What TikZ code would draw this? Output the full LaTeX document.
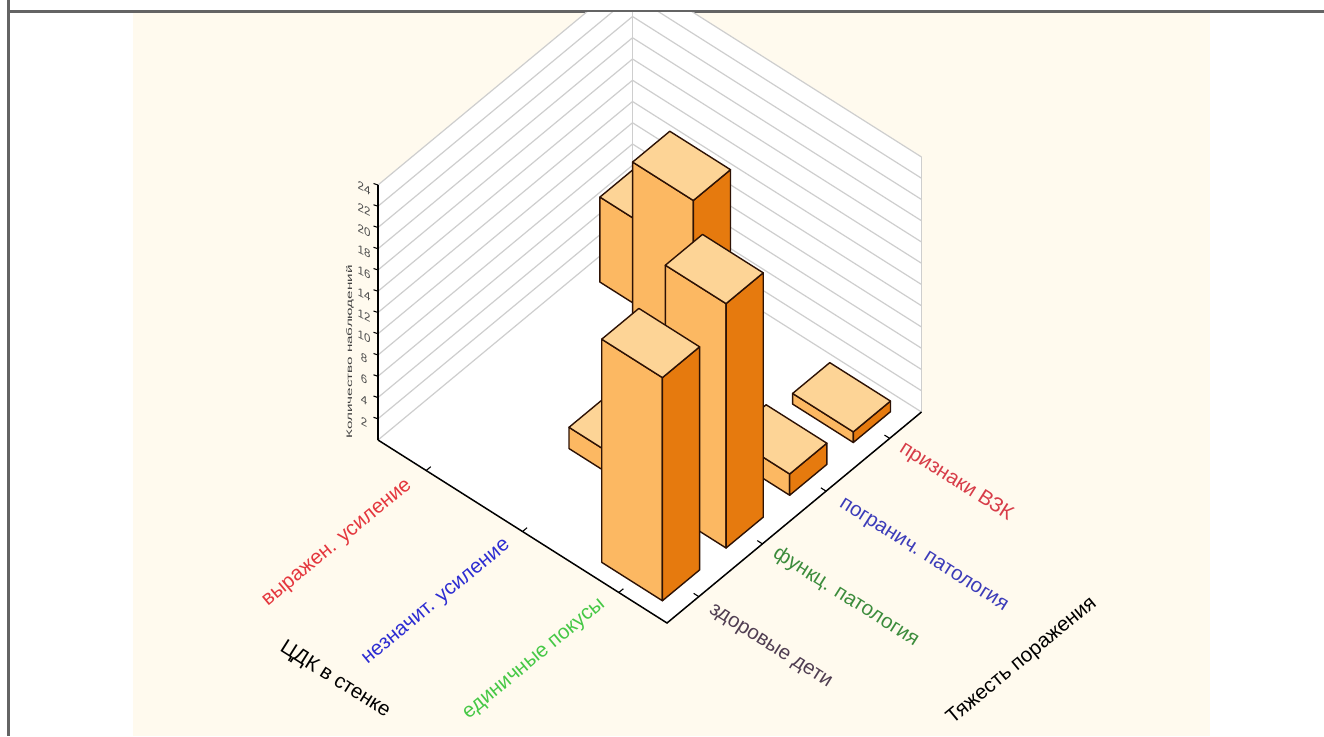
\documentclass[tikz,border=0pt]{standalone}
\usepackage{fontspec}
\setmainfont{Liberation Sans}
\definecolor{cream}{RGB}{255,250,238}
\definecolor{gridgray}{RGB}{206,206,206}
\definecolor{framegray}{RGB}{100,100,100}
\definecolor{barT}{RGB}{253,212,150}
\definecolor{barL}{RGB}{252,184,98}
\definecolor{barR}{RGB}{230,122,14}
\definecolor{barE}{RGB}{45,18,5}
\definecolor{labred}{RGB}{228,55,62}
\definecolor{labblue}{RGB}{45,45,210}
\definecolor{labgreen}{RGB}{70,200,70}
\definecolor{labgreenB}{RGB}{60,140,60}
\definecolor{labblueB}{RGB}{60,60,185}
\definecolor{labredB}{RGB}{215,60,72}
\definecolor{labdark}{RGB}{80,62,82}
\newcommand{\mybar}[3]{%
  \pgfmathsetmacro{\bsA}{#1-0.105}%
  \pgfmathsetmacro{\bsB}{#1+0.105}%
  \pgfmathsetmacro{\bwA}{#2-0.073}%
  \pgfmathsetmacro{\bwB}{#2+0.073}%
  \filldraw[barleft] (\bsA,\bwA,0) -- (\bsB,\bwA,0) -- (\bsB,\bwA,#3) -- (\bsA,\bwA,#3) -- cycle;
  \filldraw[barright] (\bsA,\bwA,0) -- (\bsA,\bwB,0) -- (\bsA,\bwB,#3) -- (\bsA,\bwA,#3) -- cycle;
  \filldraw[bartop] (\bsA,\bwA,#3) -- (\bsB,\bwA,#3) -- (\bsB,\bwB,#3) -- (\bsA,\bwB,#3) -- cycle;
}
\begin{document}
\begin{tikzpicture}[x=1pt,y=-1pt,
  grid/.style={draw=gridgray,line width=1.2pt},
  axisline/.style={draw=black,line width=1.5pt},
  tickline/.style={draw=black,line width=1.1pt},
  barleft/.style={fill=barL,draw=barE,line width=1.4pt,line join=round},
  barright/.style={fill=barR,draw=barE,line width=1.4pt,line join=round},
  bartop/.style={fill=barT,draw=barE,line width=1.4pt,line join=round},
  lab/.style={font=\fontsize{20.5}{20.5}\selectfont,inner sep=0pt},
  ticklab/.style={font=\fontsize{11.5}{11.5}\selectfont,inner sep=0pt,text=black!70,yslant=-0.5},
]
\useasboundingbox (0,0) rectangle (1324,736);
\fill[white] (0,0) rectangle (1324,736);
\fill[cream] (132.5,12.7) rectangle (1209.5,736);
\draw[framegray,line width=2.7pt] (8.5,11.35) -- (1324,11.35);
\draw[framegray,line width=2.5pt] (8.5,0) -- (8.5,736);
\begin{scope}
\clip (132.5,12.7) rectangle (1209.5,736);
\begin{scope}[shift={(667pt,-623pt)},x={(-289pt,183pt)},y={(254.5pt,211pt)},z={(0pt,10.625pt)}]
  % walls and floor
  \fill[white] (1,0,0) -- (1,1,0) -- (1,1,24) -- (1,0,24) -- cycle;
  \fill[white] (1,1,0) -- (0,1,0) -- (0,1,24) -- (1,1,24) -- cycle;
  \fill[white] (0,0,0) -- (1,0,0) -- (1,1,0) -- (0,1,0) -- cycle;
  \foreach \v in {0,2,...,24} \draw[grid] (1,0,\v) -- (1,1,\v) -- (0,1,\v);
  \draw[grid] (1,1,0) -- (1,1,24);
  \draw[grid] (0,1,0) -- (0,1,24);
  % axes
  \draw[axisline] (1,0,0) -- (1,0,24);
  \foreach \v in {2,4,...,24} \draw[tickline] (1,0,\v) -- ++(-4.5pt,1.5pt);
  \draw[axisline] (1,0,0) -- (0,0,0) -- (0,1,0);
  \foreach \s in {0.1667,0.5,0.8333} \draw[tickline] (\s,0,0) -- (\s,0.018,0);
  \foreach \w in {0.125,0.375,0.625,0.875} \draw[tickline] (0,\w,0) -- (0.018,\w,0);
  % bars, back to front
  \mybar{5/6}{7/8}{8}
  \mybar{1/2}{5/8}{22}
  \mybar{1/6}{7/8}{1}
  \mybar{1/2}{3/8}{2}
  \mybar{1/6}{5/8}{2}
  \mybar{1/6}{3/8}{23}
  \mybar{1/6}{1/8}{21}
\end{scope}
\end{scope}
% value labels
\foreach \v in {2,4,...,24} \node[ticklab] (tl\v) at (364,{443-10.625*\v}) {\v};
\node[font=\fontsize{8}{8}\selectfont,inner sep=0pt,text=black!75,rotate=90,xscale=1.9] (ytitle) at (350,352) {Количество наблюдений};
% category labels, left axis
\node[lab,text=labred,rotate=39.6] (c1) at (338,544) {выражен. усиление};
\node[lab,text=labblue,rotate=39.6] (c2) at (437,603) {незначит. усиление};
\node[lab,text=labgreen,rotate=39.6] (c3) at (535,660) {единичные покусы};
\node[lab,text=black,rotate=-32.3] (xtitle) at (335,680) {ЦДК в стенке};
% category labels, right axis
\node[lab,text=labdark,rotate=-32.3] (d1) at (770,647) {здоровые дети};
\node[lab,text=labgreenB,rotate=-32.3] (d2) at (846,597) {функц. патология};
\node[lab,text=labblueB,rotate=-32.3] (d3) at (923,556) {погранич. патология};
\node[lab,text=labredB,rotate=-32.3] (d4) at (956,482) {признаки ВЗК};
\node[lab,text=black,rotate=39.6] (ztitle) at (1022,661) {Тяжесть поражения};
\end{tikzpicture}
\end{document}
